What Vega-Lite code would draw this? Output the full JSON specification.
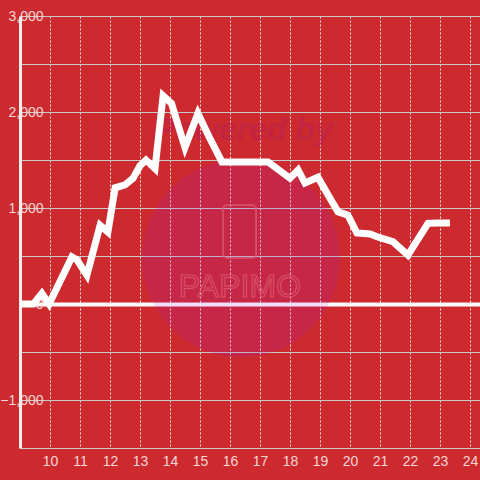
{
  "$schema": "https://vega.github.io/schema/vega-lite/v6.json",
  "width": 460,
  "height": 432,
  "autosize": {"type": "none"},
  "padding": {"left": 20, "top": 16, "right": 0, "bottom": 32},
  "background": "#cd2a2f",
  "config": {
    "view": {"stroke": null},
    "font": "Liberation Sans"
  },
  "encoding": {
    "x": {
      "field": "x", "type": "quantitative",
      "scale": {"domain": [9, 24.3333], "nice": false, "zero": false},
      "axis": {
        "title": null, "domain": false, "ticks": false, "grid": true,
        "values": [10, 11, 12, 13, 14, 15, 16, 17, 18, 19, 20, 21, 22, 23, 24],
        "gridDash": [2, 2], "gridColor": "#f2e4e4", "gridWidth": 1,
        "labelColor": "#f3d6d6", "labelFontSize": 14, "labelPadding": 6,
        "labelFont": "Liberation Sans", "labelFlush": false
      }
    },
    "y": {
      "field": "y", "type": "quantitative",
      "scale": {"domain": [-1500, 3000], "nice": false},
      "axis": {
        "title": null, "domain": true, "domainColor": "#f5eeee", "domainWidth": 3,
        "ticks": false, "grid": true,
        "values": [-1500, -1000, -500, 0, 500, 1000, 1500, 2000, 2500, 3000],
        "gridColor": {"condition": {"test": "datum.value === 0", "value": "#ffffff"}, "value": "#c9c9c9"},
        "gridWidth": {"condition": {"test": "datum.value === 0", "value": 4}, "value": 1},
        "labelExpr": "datum.value % 1000 === 0 ? format(datum.value, ',') : ''",
        "labelColor": "#f3d6d6", "labelFontSize": 14, "labelPadding": -23,
        "labelFont": "Liberation Sans", "labelFlush": false, "labelOverlap": false
      }
    }
  },
  "layer": [
    {
      "data": {"values": [{"x": 16.37, "y": 478}]},
      "mark": {"type": "point", "filled": true, "size": 39200, "color": "#a61dce", "opacity": 0.15, "shape": "circle"}
    },
    {
      "data": {"values": [{"x": 16.43, "y": 1709, "t": "Powered by"}]},
      "mark": {"type": "text", "font": "Liberation Sans", "fontWeight": "bold", "fontStyle": "italic", "fontSize": 32, "baseline": "alphabetic", "align": "center", "color": "#bb2251", "opacity": 0.5},
      "encoding": {"text": {"field": "t"}}
    },
    {
      "data": {"values": [{"x": 16.33, "y": 73, "t": "PAPIMO"}]},
      "mark": {"type": "text", "font": "Liberation Sans", "fontSize": 32, "letterSpacing": 2, "baseline": "alphabetic", "align": "center", "fill": null, "fillOpacity": 0, "stroke": "#dc5a70", "strokeWidth": 1.2, "strokeOpacity": 0.8},
      "encoding": {"text": {"field": "t"}}
    },
    {
      "data": {"values": [{"x": 15.77, "x2": 16.87, "y": 1030, "y2": 478}]},
      "mark": {"type": "rect", "filled": false, "stroke": "#dc5a70", "strokeWidth": 2, "strokeOpacity": 0.7, "cornerRadius": 4},
      "encoding": {"x2": {"field": "x2"}, "y2": {"field": "y2"}}
    },
    {
      "data": {"values": [
        {"x": 9.0, "y": 0},
        {"x": 9.45, "y": 0},
        {"x": 9.73, "y": 110},
        {"x": 9.97, "y": 0},
        {"x": 10.73, "y": 490},
        {"x": 10.9, "y": 460},
        {"x": 11.23, "y": 300},
        {"x": 11.67, "y": 820},
        {"x": 11.93, "y": 750},
        {"x": 12.17, "y": 1210},
        {"x": 12.5, "y": 1240},
        {"x": 12.77, "y": 1310},
        {"x": 13.0, "y": 1440},
        {"x": 13.2, "y": 1500},
        {"x": 13.5, "y": 1410},
        {"x": 13.77, "y": 2170},
        {"x": 14.05, "y": 2090},
        {"x": 14.5, "y": 1630},
        {"x": 14.93, "y": 1985},
        {"x": 15.33, "y": 1725},
        {"x": 15.73, "y": 1480},
        {"x": 17.27, "y": 1480},
        {"x": 18.0, "y": 1310},
        {"x": 18.27, "y": 1395},
        {"x": 18.5, "y": 1260},
        {"x": 18.93, "y": 1320},
        {"x": 19.27, "y": 1135},
        {"x": 19.6, "y": 960},
        {"x": 19.93, "y": 925},
        {"x": 20.23, "y": 740},
        {"x": 20.67, "y": 730},
        {"x": 20.9, "y": 700},
        {"x": 21.43, "y": 650},
        {"x": 21.93, "y": 510},
        {"x": 22.6, "y": 840},
        {"x": 22.9, "y": 845},
        {"x": 23.33, "y": 845}
      ]},
      "mark": {"type": "line", "color": "#ffffff", "strokeWidth": 7, "clip": true}
    }
  ]
}
